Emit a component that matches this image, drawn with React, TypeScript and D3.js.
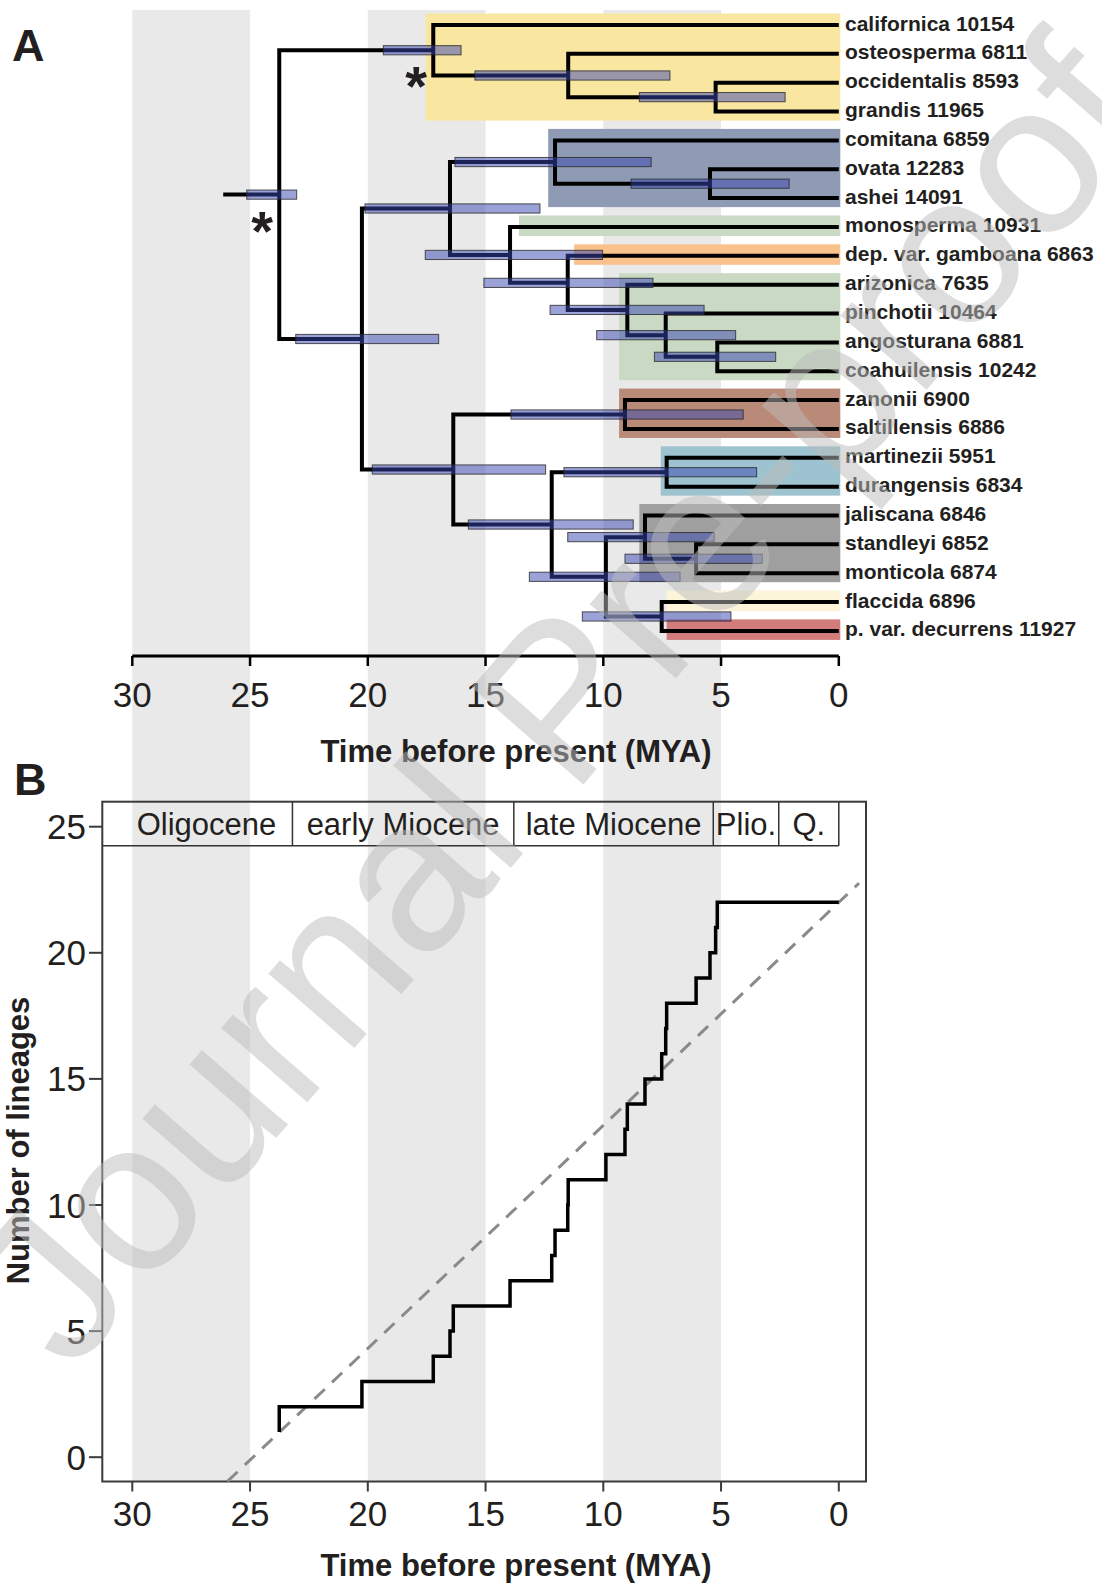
import React, { useEffect } from "react";
import * as d3 from "d3";

// tips, top to bottom
const tipLabels = [
  "californica 10154", "osteosperma 6811", "occidentalis 8593", "grandis 11965",
  "comitana 6859", "ovata 12283", "ashei 14091", "monosperma 10931",
  "dep. var. gamboana 6863", "arizonica 7635", "pinchotii 10464", "angosturana 6881",
  "coahuilensis 10242", "zanonii 6900", "saltillensis 6886", "martinezii 5951",
  "durangensis 6834", "jaliscana 6846", "standleyi 6852", "monticola 6874",
  "flaccida 6896", "p. var. decurrens 11927",
];

// internal nodes; children are node keys or tip indices
const nodeKeys = ["root", "cal", "ost", "occ", "B", "B1", "com", "ova", "D", "E", "F", "G", "H", "B2", "Z", "K", "M", "N", "P", "Q", "R"];
const nodeKids: (string | number)[][] = [
  ["cal", "B"], [0, "ost"], [1, "occ"], [2, 3],
  ["B1", "B2"], ["com", "D"], [4, "ova"], [5, 6],
  [7, "E"], [8, "F"], [9, "G"], [10, "H"], [11, 12],
  ["Z", "K"], [13, 14], ["M", "N"], [15, 16], ["P", "R"], [17, "Q"], [18, 19], [20, 21],
];
// node ages and 95% HPD (Mya)
const nodeAges = [23.76, 17.22, 11.49, 5.23, 20.25, 16.51, 12.05, 5.47, 13.96, 11.51, 8.98, 7.35, 5.16, 16.37, 9.08, 12.19, 7.31, 9.89, 8.23, 6.06, 7.52];
const hpdOld = [25.14, 19.34, 15.45, 8.47, 23.06, 20.12, 16.3, 8.82, 17.56, 15.07, 12.26, 10.28, 7.83, 19.81, 13.92, 15.73, 11.67, 13.14, 11.51, 9.08, 10.89];
const hpdYoung = [23.02, 16.04, 7.17, 2.28, 16.99, 12.69, 7.97, 2.11, 10.03, 7.89, 5.72, 4.38, 2.68, 12.45, 4.06, 8.73, 3.49, 6.74, 5.29, 3.25, 4.58];
const rootStemAge = 26.14;
const starredNodes = ["root", "cal"];

// coloured clade boxes
const cladeFirst = [0, 4, 7, 8, 9, 13, 15, 17, 20, 21];
const cladeLast = [3, 6, 7, 8, 12, 14, 16, 19, 20, 21];
const cladeStart = [17.54, 12.34, 13.58, 11.24, 9.33, 9.33, 7.56, 8.47, 7.31, 7.31];
const cladeFill = ["#f9e6a0", "#8f9bb4", "#c9d9c3", "#f9c28d", "#c9d9c3", "#b98a78", "#9cc3cf", "#9f9f9f", "#fdf5da", "#d27c7c"];

const bandAges = [[30, 25], [20, 15], [10, 5]];
const timeTicks = [30, 25, 20, 15, 10, 5, 0];
const countTicks = [0, 5, 10, 15, 20, 25];

const epochNames = ["Oligocene", "early Miocene", "late Miocene", "Plio.", "Q."];
const epochStart = [33.9, 23.2, 13.8, 5.33, 2.55];
const epochEnd = [23.2, 13.8, 5.33, 2.55, 0];

// dashed constant-rate line, end points (age, lineages)
const nullAges = [25.96, -0.86];
const nullCounts = [-0.96, 22.76];

const FONT = "'Liberation Sans', Arial, Helvetica, sans-serif";
const INK = "#231f20";

export default function App() {
  useEffect(() => {
    document.body.style.margin = "0";
  }, []);

  const x = d3.scaleLinear().domain([30, 0]).range([132.3, 838.8]);
  const tipY = d3.scaleLinear().domain([0, tipLabels.length - 1]).range([25, 630.9]);

  const idx = new Map(nodeKeys.map((k, i) => [k, i]));
  const nodeY: number[] = [];
  const yOf = (c: string | number): number => {
    if (typeof c === "number") return tipY(c);
    const i = idx.get(c)!;
    if (nodeY[i] === undefined) {
      const [a, b] = nodeKids[i];
      nodeY[i] = (yOf(a) + yOf(b)) / 2;
    }
    return nodeY[i];
  };
  nodeKeys.forEach((k) => yOf(k));
  const ageOf = (c: string | number) => (typeof c === "number" ? 0 : nodeAges[idx.get(c)!]);

  const branchPaths = nodeKids.map(([a, b], i) =>
    `M${x(ageOf(a))},${yOf(a)}H${x(nodeAges[i])}V${yOf(b)}H${x(ageOf(b))}`
  );
  const rootI = idx.get("root")!;

  // panel B
  const plotL = 102.3, plotR = 866, plotT = 801.7, plotB = 1481.5, headB = 845.7;
  const yB = d3.scaleLinear().domain([0, 25]).range([1457.2, 826.7]);
  const sorted = [...nodeAges].sort((p, q) => q - p);
  const ltt: [number, number][] = [[sorted[0], 1], ...sorted.map((a, i) => [a, i + 2] as [number, number]), [0, sorted.length + 1]];
  const lttPath = d3.line<[number, number]>().x((d) => x(d[0])).y((d) => yB(d[1])).curve(d3.curveStepAfter)(ltt) || "";
  const nullPath = d3.line<number>().x((_, i) => x(nullAges[i])).y((d) => yB(d))(nullCounts) || "";

  return (
    <svg width={1102} height={1583} style={{ display: "block", background: "#fff" }} fontFamily={FONT}>
      {/* time bands through both panels */}
      {bandAges.map(([a, b], i) => (
        <rect key={"band" + i} x={x(a)} y={10} width={x(b) - x(a)} height={plotB - 10} fill="#e9e9e9" />
      ))}

      {/* clade boxes */}
      {cladeFirst.map((f, i) => (
        <rect key={"clade" + i} x={x(cladeStart[i])} y={tipY(f) - 11.5}
          width={x(0) + 1.5 - x(cladeStart[i])} height={tipY(cladeLast[i]) - tipY(f) + 20.5} fill={cladeFill[i]} />
      ))}

      {/* branches */}
      <path d={`M${x(rootStemAge)},${nodeY[rootI]}H${x(nodeAges[rootI])}`} stroke="#000" strokeWidth={4} fill="none" />
      {branchPaths.map((d, i) => (
        <path key={"br" + i} d={d} stroke="#000" strokeWidth={4} fill="none" strokeLinejoin="miter" />
      ))}

      {/* HPD bars */}
      {nodeAges.map((_, i) => (
        <rect key={"hpd" + i} x={x(hpdOld[i])} y={nodeY[i] - 4.6} width={x(hpdYoung[i]) - x(hpdOld[i])} height={9.2}
          fill="rgba(55,70,175,0.5)" stroke="rgba(40,40,40,0.8)" strokeWidth={1} />
      ))}

      {starredNodes.map((k) => {
        const i = idx.get(k)!;
        return (
          <text key={"star" + k} x={x(nodeAges[i]) - 17} y={nodeY[i] + 55} fontSize={56} fontWeight="bold" textAnchor="middle" fill={INK}>*</text>
        );
      })}

      {tipLabels.map((t, i) => (
        <text key={"tip" + i} x={845} y={tipY(i) + 5.5} fontSize={21} fontWeight="bold" fill={INK}>{t}</text>
      ))}

      {/* panel A axis */}
      <line x1={x(30)} x2={x(0)} y1={656} y2={656} stroke="#000" strokeWidth={3} />
      {timeTicks.map((t) => (
        <g key={"ta" + t}>
          <line x1={x(t)} x2={x(t)} y1={656} y2={666} stroke="#000" strokeWidth={2.5} />
          <text x={x(t)} y={706.5} fontSize={35} textAnchor="middle" fill={INK}>{t}</text>
        </g>
      ))}
      <text x={516} y={761.5} fontSize={31} fontWeight="bold" textAnchor="middle" fill={INK}>Time before present (MYA)</text>

      <text x={12} y={60.5} fontSize={45} fontWeight="bold" fill={INK}>A</text>
      <text x={14} y={794.5} fontSize={45} fontWeight="bold" fill={INK}>B</text>

      {/* panel B */}
      <rect x={plotL} y={plotT} width={plotR - plotL} height={plotB - plotT} fill="none" stroke="#3a3a3a" strokeWidth={2} />
      <line x1={plotL} x2={x(0)} y1={headB} y2={headB} stroke="#333" strokeWidth={1.5} />
      {epochNames.map((n, i) => {
        const x1 = x(epochEnd[i]);
        const cx = (x(Math.min(epochStart[i], 30.5)) + x1) / 2;
        return (
          <g key={"ep" + i}>
            <line x1={x1} x2={x1} y1={plotT} y2={headB} stroke="#333" strokeWidth={1.5} />
            <text x={cx} y={834.5} fontSize={31} textAnchor="middle" fill={INK}>{n}</text>
          </g>
        );
      })}

      <path d={nullPath} stroke="#8a8a8a" strokeWidth={3} strokeDasharray="14 10" fill="none" />
      <path d={lttPath} stroke="#000" strokeWidth={3.5} fill="none" />

      {countTicks.map((c) => (
        <g key={"cb" + c}>
          <line x1={89} x2={plotL} y1={yB(c)} y2={yB(c)} stroke="#3a3a3a" strokeWidth={2} />
          <text x={86} y={yB(c) + 12.5} fontSize={35} textAnchor="end" fill={INK}>{c}</text>
        </g>
      ))}
      {timeTicks.map((t) => (
        <g key={"tb" + t}>
          <line x1={x(t)} x2={x(t)} y1={plotB} y2={plotB + 10} stroke="#3a3a3a" strokeWidth={2} />
          <text x={x(t)} y={1526} fontSize={35} textAnchor="middle" fill={INK}>{t}</text>
        </g>
      ))}
      <text x={516} y={1575.5} fontSize={31} fontWeight="bold" textAnchor="middle" fill={INK}>Time before present (MYA)</text>
      <text transform="translate(29,1140.5) rotate(-90)" fontSize={31} fontWeight="bold" textAnchor="middle" fill={INK}>Number of lineages</text>

      {/* watermark */}
      <text transform="translate(70,1375) rotate(-49)" fontSize={215} fill="#bdbdbd" opacity={0.5}>Journal Pre-proof</text>
    </svg>
  );
}
